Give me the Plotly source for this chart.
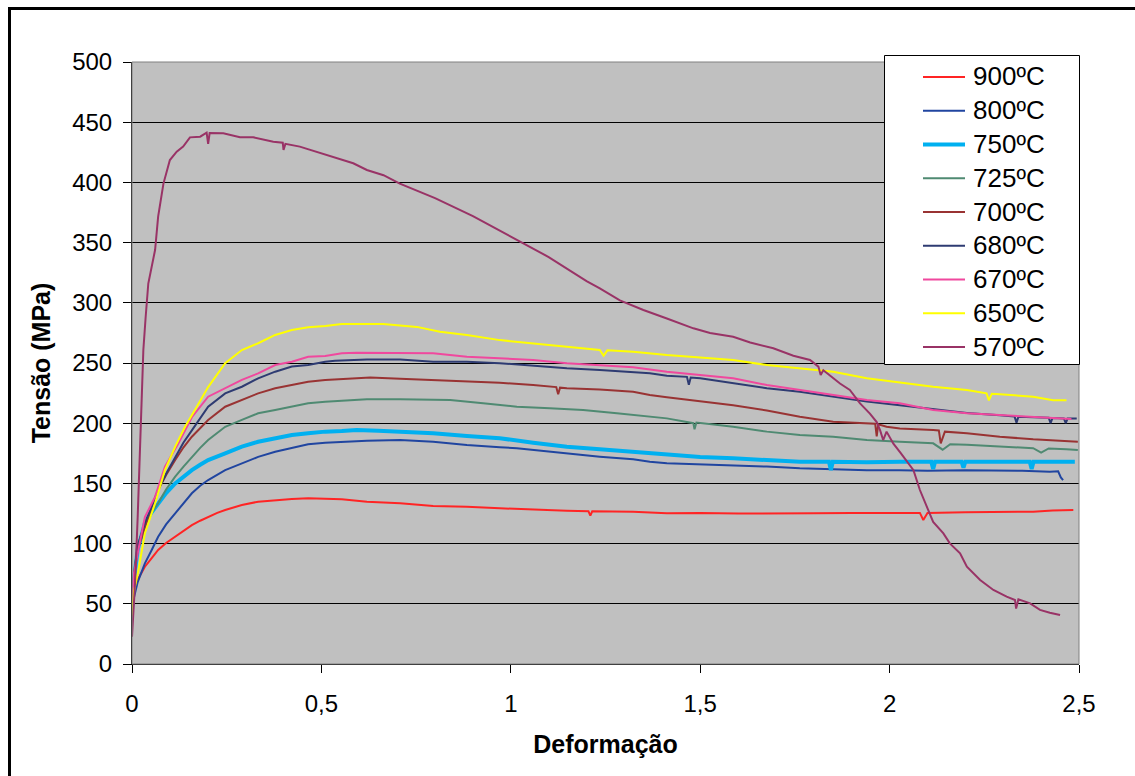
import plotly.graph_objects as go

# Flow curves: stress (MPa) vs. true strain, one test per temperature
labels = ["900ºC", "800ºC", "750ºC", "725ºC", "700ºC", "680ºC", "670ºC", "650ºC", "570ºC"]
colors = ["#FF2424", "#2045A0", "#00B0F0", "#4F8A72", "#993333", "#2E3B72", "#F0489E", "#FFFF00", "#993366"]
widths = [2, 2, 4, 2, 2, 2, 2, 2, 2]

strain_900 = [0, 0.005, 0.015, 0.034, 0.052, 0.069, 0.09, 0.114, 0.136, 0.158, 0.18, 0.201, 0.225, 0.246,
              0.27, 0.29, 0.333, 0.378, 0.422, 0.465, 0.51, 0.554, 0.62, 0.708, 0.795, 0.884, 0.971, 1.06,
              1.148, 1.205, 1.21, 1.215, 1.323, 1.412, 1.5, 1.6, 1.7, 1.8, 1.9, 2.0, 2.08, 2.089, 2.1, 2.2,
              2.3, 2.379, 2.43, 2.467, 2.485]
stress_900 = [45, 60, 70, 80.8, 88, 94.7, 100.5, 105.7, 110.8, 115.4, 119, 122.3, 125.5, 127.9,
              130, 132, 134.8, 136.2, 137, 137.6, 137, 136.8, 134.8, 133.5, 131.2, 130.6, 129.3, 128,
              127.3, 126.8, 123.2, 126.8, 126.5, 125.2, 125.5, 125, 125.4, 125.2, 125.5, 125.5, 125.5, 119.6, 125.5, 126,
              126.2, 126.5, 127.5, 127.9, 127.9]

strain_800 = [0, 0.005, 0.015, 0.034, 0.052, 0.069, 0.09, 0.114, 0.136, 0.158, 0.18, 0.201, 0.246, 0.29,
              0.333, 0.378, 0.422, 0.465, 0.51, 0.554, 0.576, 0.62, 0.708, 0.795, 0.884, 0.936, 0.971, 1.016,
              1.06, 1.148, 1.235, 1.323, 1.367, 1.412, 1.5, 1.587, 1.676, 1.763, 1.85, 1.94, 2.027, 2.1,
              2.2, 2.291, 2.35, 2.423, 2.445, 2.452, 2.458]
stress_800 = [40, 55, 68, 83.6, 94.7, 105.7, 116, 125, 134, 141.8, 148, 152.8, 161, 166.7,
              172, 176.3, 179.2, 182.5, 183.8, 184.6, 185, 185.5, 186, 184.6, 181.9, 180.5, 180, 179.2,
              177.7, 175, 172.2, 170, 168, 166.7, 166, 165.3, 164, 162.5, 161.8, 161, 161, 160.5,
              161, 161, 160.5, 159.7, 160, 155, 152.8]

strain_750 = [0, 0.005, 0.015, 0.034, 0.052, 0.069, 0.09, 0.114, 0.136, 0.158, 0.18, 0.201, 0.246, 0.29,
              0.333, 0.378, 0.422, 0.465, 0.51, 0.554, 0.593, 0.65, 0.708, 0.795, 0.884, 0.971, 1.059, 1.148,
              1.235, 1.323, 1.412, 1.5, 1.587, 1.676, 1.763, 1.84, 1.845, 1.85, 1.94, 2.027, 2.11, 2.115,
              2.12, 2.19, 2.195, 2.2, 2.291, 2.37, 2.375, 2.38, 2.467, 2.489]
stress_750 = [45, 70, 95, 117, 126, 133.5, 142, 150, 156, 161, 165.5, 169.4, 175, 180.5,
              184.6, 187.5, 190.2, 191.6, 193, 193.5, 194.4, 193.8, 193, 191.6, 189.4, 187.5, 183.8, 180.5,
              178.3, 176.3, 173.6, 172, 170.8, 169.5, 168, 168, 161, 168, 167.5, 168, 168, 162,
              168, 168, 163, 168, 168, 168, 162, 168, 168, 168]

strain_725 = [0, 0.005, 0.015, 0.034, 0.052, 0.069, 0.09, 0.114, 0.136, 0.158, 0.18, 0.201, 0.246, 0.29,
              0.333, 0.378, 0.422, 0.465, 0.51, 0.554, 0.62, 0.708, 0.752, 0.84, 0.927, 1.016, 1.103, 1.191,
              1.28, 1.359, 1.412, 1.482, 1.485, 1.49, 1.587, 1.676, 1.763, 1.851, 1.94, 2.027, 2.115, 2.14,
              2.16, 2.204, 2.291, 2.379, 2.4, 2.42, 2.467, 2.497]
stress_725 = [50, 75, 98, 117, 126, 133.5, 145, 155.6, 164, 172, 179.5, 186, 197, 202.7,
              208.2, 211, 213.7, 216.5, 217.9, 218.7, 219.8, 219.8, 219.8, 219.3, 216.5, 213.7, 212.4, 211,
              208.2, 206, 204, 200, 195, 200.5, 197, 193, 190.2, 188.8, 186, 184.6, 183.3, 178,
              182.5, 182, 180.5, 179.2, 175.5, 179, 178.3, 177.7]

strain_700 = [0, 0.005, 0.015, 0.034, 0.052, 0.069, 0.09, 0.114, 0.136, 0.158, 0.18, 0.201, 0.246, 0.29,
              0.333, 0.378, 0.422, 0.465, 0.51, 0.554, 0.629, 0.708, 0.795, 0.884, 0.971, 1.059, 1.12, 1.125,
              1.13, 1.148, 1.235, 1.323, 1.367, 1.412, 1.5, 1.587, 1.676, 1.763, 1.851, 1.94, 1.962, 1.966,
              1.97, 1.992, 2.027, 2.115, 2.13, 2.135, 2.146, 2.204, 2.291, 2.379, 2.467, 2.497]
stress_700 = [45, 70, 95, 114, 130, 144.5, 157, 169.4, 180, 188.8, 196, 202.7, 213.7, 219.3,
              224.8, 229, 231.7, 234.5, 235.9, 236.5, 238, 237, 235.9, 235.3, 233.6, 231.7, 230, 224,
              229.5, 229, 228, 226.2, 223.4, 221.5, 218, 215, 210.5, 205.4, 201.2, 200, 199.5, 189,
              199, 197, 195.7, 194.4, 194, 183.3, 193, 191.6, 188.8, 186.6, 185.2, 184.6]

strain_680 = [0, 0.005, 0.015, 0.034, 0.052, 0.069, 0.09, 0.114, 0.136, 0.158, 0.18, 0.201, 0.246, 0.29,
              0.333, 0.378, 0.422, 0.465, 0.51, 0.536, 0.62, 0.708, 0.795, 0.884, 0.971, 1.059, 1.148, 1.235,
              1.323, 1.367, 1.412, 1.465, 1.47, 1.475, 1.5, 1.587, 1.676, 1.763, 1.851, 1.94, 2.027, 2.115,
              2.204, 2.291, 2.33, 2.335, 2.34, 2.42, 2.425, 2.43, 2.46, 2.465, 2.47, 2.494]
stress_680 = [50, 72, 98, 117, 131, 144.5, 158, 172, 184, 194, 204, 213.7, 224.8, 230.3,
              237.3, 242.8, 247, 248.3, 251, 251.9, 253, 253, 251, 251, 249.8, 247.5, 245.6, 244.2,
              242.5, 241.4, 239.5, 238.5, 232, 238, 237.3, 233, 229, 226.2, 222, 218, 215, 211.5,
              208.5, 206.5, 205.5, 200.5, 205.3, 204.5, 200, 204.3, 204, 200, 204, 204]

strain_670 = [0, 0.005, 0.015, 0.034, 0.061, 0.087, 0.122, 0.158, 0.201, 0.246, 0.29, 0.333, 0.378, 0.422,
              0.465, 0.51, 0.554, 0.593, 0.708, 0.795, 0.884, 0.971, 1.059, 1.148, 1.235, 1.323, 1.412, 1.5,
              1.587, 1.676, 1.763, 1.851, 1.94, 2.027, 2.115, 2.204, 2.291, 2.379, 2.467, 2.48]
stress_670 = [45, 75, 92, 122, 139, 164, 183, 205, 222, 229, 236, 241.4, 248.3, 251,
              255.2, 255.8, 258, 258.6, 258.6, 258, 255.2, 253.9, 252.5, 249.8, 248.3, 246.5, 242.8, 240,
              237.3, 231.7, 227.6, 223.4, 219.3, 216.5, 211, 208.2, 206.8, 205.4, 204, 203.5]

strain_650 = [0, 0.005, 0.017, 0.034, 0.061, 0.087, 0.114, 0.14, 0.166, 0.201, 0.246, 0.29, 0.333, 0.378,
              0.422, 0.465, 0.51, 0.554, 0.663, 0.752, 0.813, 0.884, 0.971, 1.059, 1.148, 1.235, 1.245, 1.255,
              1.323, 1.412, 1.5, 1.587, 1.676, 1.763, 1.851, 1.94, 2.027, 2.115, 2.204, 2.256, 2.262, 2.27,
              2.291, 2.379, 2.432, 2.467]
stress_650 = [40, 60, 78, 108.6, 133.5, 161, 180.5, 197, 211, 230, 249.8, 260.8, 266.4, 273.3,
              277.4, 279.6, 280.7, 282.4, 282.4, 280, 276, 273.3, 269, 266.4, 263.5, 260.8, 256, 260.5,
              259.4, 256.6, 254.5, 252.5, 248.3, 245.6, 242.8, 237.3, 234, 230.3, 227.6, 224.8, 219, 224.5,
              224, 222, 219, 219]

strain_570 = [0, 0.008, 0.015, 0.021, 0.03, 0.036, 0.043, 0.061, 0.069, 0.083, 0.1, 0.118, 0.135, 0.153,
              0.18, 0.197, 0.201, 0.205, 0.241, 0.285, 0.32, 0.373, 0.398, 0.4, 0.405, 0.443, 0.531, 0.584,
              0.62, 0.664, 0.707, 0.8, 0.9, 1.0, 1.1, 1.2, 1.235, 1.288, 1.35, 1.412, 1.482, 1.526,
              1.587, 1.632, 1.693, 1.746, 1.79, 1.812, 1.818, 1.825, 1.869, 1.895, 1.922, 1.948, 1.966, 1.975,
              1.983, 1.992, 2.01, 2.03, 2.063, 2.08, 2.098, 2.115, 2.142, 2.159, 2.186, 2.204, 2.239, 2.274,
              2.309, 2.331, 2.334, 2.34, 2.371, 2.397, 2.423, 2.45]
stress_570 = [22.7, 67, 122, 178, 261, 288, 316, 344, 371.5, 399, 418.6, 425.5, 429.7, 437.4,
              438, 441.3, 432, 441, 440.8, 437.5, 437.5, 433.8, 433, 427, 432, 429.7, 421.4, 415.9,
              410.3, 406, 399, 387, 372, 355, 338, 318, 312, 302, 294, 287, 278.8, 275,
              271.8, 267, 262.2, 256, 252.5, 247, 240, 244, 233, 227.6, 216.5, 208, 201, 194,
              186, 193, 183, 175, 161, 144.5, 130.6, 118, 108.5, 100.2, 92, 80.8, 69.8, 61.5,
              55.9, 53.2, 46, 53.7, 50.4, 44.9, 42.6, 40.7]

strains = [strain_900, strain_800, strain_750, strain_725, strain_700, strain_680, strain_670, strain_650, strain_570]
stresses = [stress_900, stress_800, stress_750, stress_725, stress_700, stress_680, stress_670, stress_650, stress_570]

W, H = 1135, 776
L, R, T, B = 132, 56, 62, 112
PW, PH = W - L - R, H - T - B


def px(x):
    return (x - L) / PW


def py(y):
    return (H - B - y) / PH


fig = go.Figure()
for name, xs, ys, c, w in zip(labels, strains, stresses, colors, widths):
    fig.add_trace(go.Scatter(x=xs, y=ys, mode="lines", name=name,
                             line=dict(color=c, width=w), showlegend=False))

shapes = [
    # plot-area frame
    dict(type="rect", xref="paper", yref="paper", x0=0, x1=1, y0=0, y1=1,
         line=dict(color="#808080", width=1), layer="above"),
    # outer chart frame
    dict(type="rect", xref="paper", yref="paper", x0=px(9.5), x1=px(1200), y0=py(820), y1=py(8.5),
         line=dict(color="black", width=3), layer="above"),
    # legend box
    dict(type="rect", xref="paper", yref="paper", x0=px(884.5), x1=px(1079.5), y0=py(364.5), y1=py(55.5),
         line=dict(color="black", width=1), fillcolor="white", layer="above"),
]
annotations = []
for i, (name, c, w) in enumerate(zip(labels, colors, widths)):
    yy = 77 + 33.75 * i
    shapes.append(dict(type="line", xref="paper", yref="paper", x0=px(923), x1=px(965),
                       y0=py(yy), y1=py(yy), line=dict(color=c, width=w), layer="above"))
    annotations.append(dict(xref="paper", yref="paper", x=px(971), y=py(yy - 0.5), text=name,
                            showarrow=False, xanchor="left", yanchor="middle",
                            font=dict(size=26, color="black")))

fig.update_layout(
    width=W, height=H,
    margin=dict(l=L, r=R, t=T, b=B, pad=0),
    plot_bgcolor="#C0C0C0", paper_bgcolor="white",
    showlegend=False,
    separators=",.",
    font=dict(family="Liberation Sans, Arial, sans-serif", color="black"),
    shapes=shapes,
    annotations=annotations,
    xaxis=dict(range=[0, 2.5], tick0=0, dtick=0.5, ticks="outside", ticklen=8, tickcolor="black",
               showline=True, linecolor="black", linewidth=1, showgrid=False, zeroline=False,
               tickfont=dict(size=24), ticklabelstandoff=10,
               title=dict(text="<b>Deformação</b>", font=dict(size=25), standoff=19)),
    yaxis=dict(range=[0, 500], tick0=0, dtick=50, ticks="outside", ticklen=8, tickcolor="black",
               showline=True, linecolor="black", linewidth=1, showgrid=True, gridcolor="black",
               gridwidth=1, zeroline=False, tickfont=dict(size=24), ticklabelstandoff=6,
               title=dict(text="<b>Tensão (MPa)</b>", font=dict(size=25), standoff=14)),
)

fig.write_html("out.html")
